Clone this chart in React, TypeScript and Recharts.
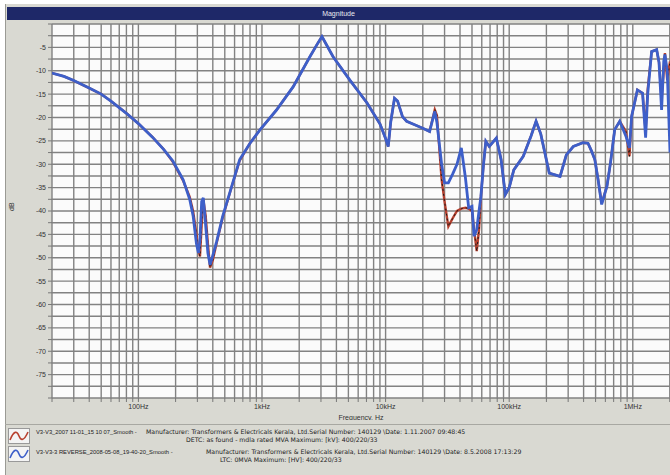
import React from "react";
import {
  LineChart,
  Line,
  XAxis,
  YAxis,
  CartesianGrid,
} from "recharts";

// frequency points, Hz
const freqs = [
  20, 25, 30, 40, 50, 60, 80, 100, 130, 160, 190, 230, 260, 277, 295, 306,
  315, 325, 335, 350, 365, 380, 400, 430, 480, 550, 660, 800, 966, 1310, 1790,
  2440, 2800, 3056, 3350, 3760, 5140, 7080, 9020, 10000, 10500, 11000, 11800,
  12500, 13700, 14800, 17000, 20000, 22700, 25000, 26000, 28400, 30000, 32200,
  35000, 37800, 41000, 44300, 47000, 50000, 52000, 54600, 57000, 59000, 62000,
  64700, 69000, 78700, 86000, 93000, 100000, 109000, 130000, 150000, 165000,
  180000, 211000, 258000, 290000, 330000, 395000, 434000, 464000, 493000,
  524000, 560000, 618000, 660000, 714000, 784000, 880000, 940000, 978000,
  1090000, 1200000, 1270000, 1320000, 1420000, 1560000, 1630000, 1710000,
  1780000, 1820000, 1900000, 2000000,
];

// V3-V3_2007 (reference trace, red)
const refDb = [
  -10.5, -11.2, -12.1, -13.7, -15.0, -16.5, -19.1, -21.3, -24.2, -26.8, -29.5,
  -33.5, -37.0, -40.0, -45.0, -48.5, -49.7, -43.0, -37.5, -41.0, -47.0, -52.1,
  -50.5, -46.8, -41.5, -36.1, -29.2, -25.5, -22.6, -18.4, -13.4, -7.0, -4.3,
  -2.7, -4.6, -7.0, -12.0, -16.9, -21.4, -24.5, -26.2, -21.0, -15.9, -16.5,
  -19.8, -20.8, -21.5, -22.3, -23.0, -18.3, -19.5, -33.3, -38.0, -43.3, -41.5,
  -40.0, -39.5, -39.3, -39.5, -40.0, -44.0, -48.6, -44.0, -37.0, -30.0, -25.1,
  -26.2, -24.4, -29.0, -36.5, -35.0, -31.2, -28.3, -24.0, -20.8, -23.5, -31.9,
  -32.6, -28.0, -26.2, -25.4, -25.5, -27.2, -29.0, -33.3, -38.4, -34.7, -29.7,
  -22.6, -20.8, -23.0, -28.3, -19.8, -14.1, -14.8, -23.0, -14.0, -5.9, -5.5,
  -8.2, -16.0, -10.0, -6.2, -12.0, -8.0,
];

// V3-V3-3 REVERSE_2008 (blue trace)
const newDb = [
  -10.5, -11.2, -12.1, -13.7, -15.0, -16.5, -19.1, -21.3, -24.2, -26.8, -29.3,
  -33.3, -37.5, -41.0, -47.0, -49.0, -46.0, -38.0, -37.2, -43.0, -49.0, -51.5,
  -49.5, -46.5, -41.2, -36.0, -29.0, -25.5, -22.6, -18.4, -13.4, -7.0, -4.3,
  -2.7, -4.6, -7.0, -12.0, -16.9, -21.4, -24.5, -26.2, -21.0, -15.9, -16.5,
  -19.8, -20.8, -21.5, -22.3, -23.0, -18.7, -21.0, -30.0, -34.0, -34.0, -32.0,
  -30.0, -26.5, -33.0, -39.3, -39.0, -45.4, -44.0, -40.0, -37.0, -30.0, -25.1,
  -26.2, -24.4, -29.0, -36.5, -35.0, -31.2, -28.3, -24.0, -20.8, -23.5, -31.9,
  -32.6, -28.0, -26.2, -25.4, -25.5, -27.2, -29.0, -33.3, -38.6, -34.7, -29.7,
  -22.6, -20.8, -24.0, -26.5, -19.8, -14.1, -14.8, -24.3, -15.0, -5.9, -5.5,
  -8.2, -18.4, -8.0, -6.5, -10.0, -27.5,
];

const decadeLabels: Record<number, string> = {
  100: "100Hz",
  1000: "1kHz",
  10000: "10kHz",
  100000: "100kHz",
  1000000: "1MHz",
};

const legendRows = [
  "V3-V3_2007 11-01_15 10 07_Smooth -",
  "Manufacturer: Transformers & Electricals Kerala, Ltd.Serial Number: 140129 \\Date: 1.11.2007 09:48:45",
  "DETC: as found - mdla rated MVA Maximum: [kV]: 400/220/33",
  "V3-V3-3 REVERSE_2008-05-08_19-40-20_Smooth -",
  "Manufacturer: Transformers & Electricals Kerala, Ltd.Serial Number: 140129 \\Date: 8.5.2008 17:13:29",
  "LTC: 0MVA Maximum: [HV]: 400/220/33",
];

const xTicks: number[] = [];
for (let d = 10; d <= 1000000; d *= 10) {
  for (let m = 1; m <= 9; m++) {
    const v = d * m;
    if (v >= 20 && v <= 2000000) xTicks.push(v);
  }
}
xTicks.push(2000000);

const yTicks: number[] = [];
for (let v = 0; v >= -80; v -= 2.5) yTicks.push(v);

const data = freqs.map((f, i) => ({ f, ref: refDb[i], cur: newDb[i] }));

const font = "'Liberation Sans', Arial, sans-serif";
const legendFont = "'DejaVu Sans', sans-serif";

function Icon({ x, y, color }: { x: number; y: number; color: string }) {
  return (
    <g transform={`translate(${x},${y})`}>
      <rect x={0.5} y={0.5} width={21} height={15} fill="#f4f4f4" stroke="#999" />
      <path
        d="M2 12 C6 2, 9 3, 11 8 S16 13, 20 4"
        fill="none"
        stroke={color}
        strokeWidth={1.6}
      />
    </g>
  );
}

function Legend() {
  const t = { fontSize: 6.2, fill: "#222", fontFamily: legendFont };
  const s = { fontSize: 5.8, fill: "#222", fontFamily: font };
  return (
    <svg
      width={670}
      height={52}
      style={{ position: "absolute", left: 0, top: 423 }}
    >
      <line x1={5} x2={670} y1={1.5} y2={1.5} stroke="#a8a8a2" />
      <Icon x={8} y={5} color="#b8412f" />
      <Icon x={8} y={23} color="#3d5fc9" />
      <text x={36} y={11} {...s}>
        {legendRows[0]}
      </text>
      <text x={146} y={11} {...t}>
        {legendRows[1]}
      </text>
      <text x={186} y={19} {...t}>
        {legendRows[2]}
      </text>
      <text x={36} y={31} {...s}>
        {legendRows[3]}
      </text>
      <text x={206} y={31} {...t}>
        {legendRows[4]}
      </text>
      <text x={220} y={39} {...t}>
        {legendRows[5]}
      </text>
    </svg>
  );
}

export default function App() {
  return (
    <div
      style={{
        position: "absolute",
        left: 0,
        top: 0,
        width: 670,
        height: 475,
        background: "#ffffff",
        overflow: "hidden",
        fontFamily: font,
      }}
    >
      <div
        style={{
          position: "absolute",
          left: 5,
          top: 4,
          width: 665,
          height: 471,
          background: "#d9d9d2",
          borderLeft: "1px solid #9a9a94",
        }}
      />
      <div
        style={{
          position: "absolute",
          left: 7,
          top: 7,
          width: 663,
          height: 13,
          background: "#1e2868",
          color: "#e8e8f0",
          fontSize: 7,
          lineHeight: "13px",
          textAlign: "center",
        }}
      >
        Magnitude
      </div>

      <div style={{ position: "absolute", left: 0, top: 0 }}>
        <LineChart
          width={670}
          height={420}
          data={data}
          margin={{ top: 24, right: 0, left: 0, bottom: 0 }}
        >
          <CartesianGrid stroke="#828282" strokeWidth={1.4} fill="#fbfbfb" />
          <XAxis
            dataKey="f"
            type="number"
            scale="log"
            domain={[20, 2000000]}
            ticks={xTicks}
            interval={0}
            height={22}
            tickSize={4}
            tickLine={{ stroke: "#777" }}
            axisLine={false}
            tickFormatter={(v: number) => decadeLabels[v] ?? ""}
            tick={{ fontSize: 7, fill: "#333" }}
            allowDataOverflow
            label={{
              value: "Frequency, Hz",
              position: "insideBottom",
              offset: 0,
              fontSize: 7,
              fill: "#333",
            }}
          />
          <YAxis
            type="number"
            domain={[-80, 0]}
            ticks={yTicks}
            interval={0}
            width={52}
            tickSize={4}
            tickLine={{ stroke: "#777" }}
            axisLine={false}
            tickFormatter={(v: number) =>
              v % 5 === 0 && v !== 0 && v !== -80 ? String(v) : ""
            }
            tick={{ fontSize: 7, fill: "#333" }}
            allowDataOverflow
            label={{
              value: "dB",
              angle: -90,
              position: "insideLeft",
              offset: 12,
              fontSize: 7,
              fill: "#333",
            }}
          />
          <Line
            dataKey="ref"
            type="linear"
            stroke="#b8412f"
            strokeWidth={2.4}
            dot={false}
            isAnimationActive={false}
          />
          <Line
            dataKey="ref"
            type="linear"
            stroke="#1a1a1a"
            strokeWidth={1}
            strokeDasharray="2 3"
            dot={false}
            isAnimationActive={false}
          />
          <Line
            dataKey="cur"
            type="linear"
            stroke="#3d5fc9"
            strokeWidth={2.8}
            dot={false}
            isAnimationActive={false}
          />
        </LineChart>
      </div>

      <Legend />
    </div>
  );
}
